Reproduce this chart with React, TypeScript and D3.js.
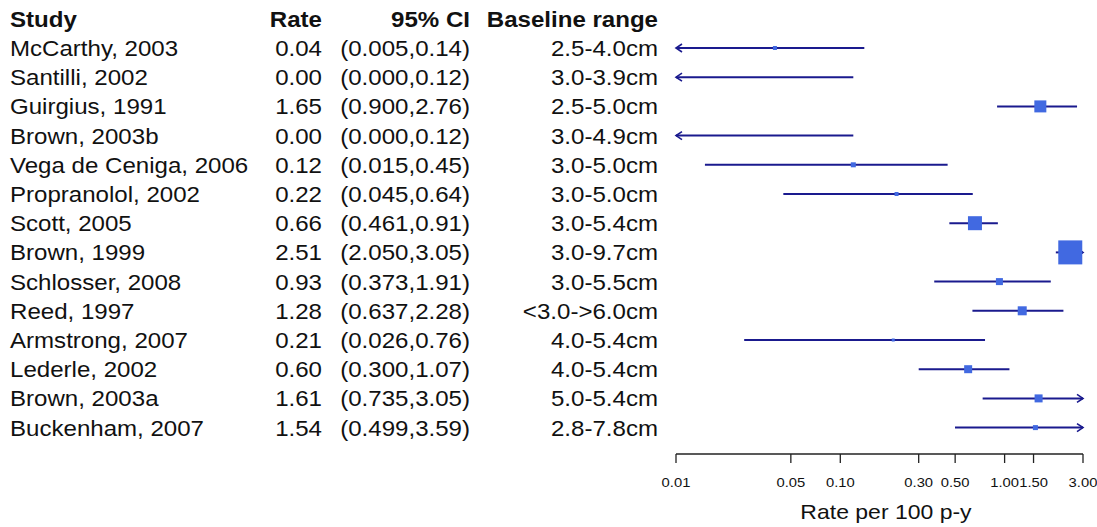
import React from "react";
import * as d3 from "d3";

const studies = [
  "McCarthy, 2003", "Santilli, 2002", "Guirgius, 1991", "Brown, 2003b",
  "Vega de Ceniga, 2006", "Propranolol, 2002", "Scott, 2005", "Brown, 1999",
  "Schlosser, 2008", "Reed, 1997", "Armstrong, 2007", "Lederle, 2002",
  "Brown, 2003a", "Buckenham, 2007",
];
const rates = [0.04, 0.0, 1.65, 0.0, 0.12, 0.22, 0.66, 2.51, 0.93, 1.28, 0.21, 0.6, 1.61, 1.54];
const lowerCI = [0.005, 0.0, 0.9, 0.0, 0.015, 0.045, 0.461, 2.05, 0.373, 0.637, 0.026, 0.3, 0.735, 0.499];
const upperCI = [0.14, 0.12, 2.76, 0.12, 0.45, 0.64, 0.91, 3.05, 1.91, 2.28, 0.76, 1.07, 3.05, 3.59];
const baselineRanges = [
  "2.5-4.0cm", "3.0-3.9cm", "2.5-5.0cm", "3.0-4.9cm", "3.0-5.0cm", "3.0-5.0cm",
  "3.0-5.4cm", "3.0-9.7cm", "3.0-5.5cm", "<3.0->6.0cm", "4.0-5.4cm", "4.0-5.4cm",
  "5.0-5.4cm", "2.8-7.8cm",
];
// relative study weights (box size)
const weights = [4, 0, 12, 0, 5, 4, 14, 24, 7, 9, 3, 8, 8, 5];
const tickValues = [0.01, 0.05, 0.1, 0.3, 0.5, 1, 1.5, 3];
const headers = ["Study", "Rate", "95% CI", "Baseline range"];
const axisTitle = "Rate per 100 p-y";

const W = 1097;
const H = 527;
const FONT = "'Liberation Sans', Arial, sans-serif";
const SX = 1.095;
const LINE = "#1a1a8e";
const BOX = "#4169e1";

export default function App() {
  const x = d3.scaleLog().domain([0.01, 3]).range([676, 1083]);
  const y = d3.scaleLinear().domain([0, 1]).range([48, 77.2]);
  const size = d3.scaleLinear().domain([0, d3.max(weights) as number]).range([0, 24]);
  const [xmin, xmax] = x.domain();
  const axisY = 454;

  const T = (
    tx: number,
    ty: number,
    s: string,
    anchor: "start" | "end" | "middle",
    fs = 22,
    bold = false,
    key?: string
  ) => (
    <text
      key={key}
      transform={`translate(${tx},${ty}) scale(${SX},1)`}
      textAnchor={anchor}
      fontSize={fs}
      fontWeight={bold ? "bold" : "normal"}
      fontFamily={FONT}
      fill="#111"
    >
      {s}
    </text>
  );

  const colStudy = 10;
  const colRate = 322;
  const colCI = 470;
  const colBase = 658;

  return (
    <div style={{ position: "absolute", left: 0, top: 0 }}>
      <svg width={W} height={H} style={{ display: "block", background: "#fff" }}>
        <g>
          {T(colStudy, y(-1) + 8, headers[0], "start", 22, true, "h0")}
          {T(colRate, y(-1) + 8, headers[1], "end", 22, true, "h1")}
          {T(colCI, y(-1) + 8, headers[2], "end", 22, true, "h2")}
          {T(colBase, y(-1) + 8, headers[3], "end", 22, true, "h3")}
        </g>
        {studies.map((s, i) => {
          const yy = y(i);
          const lo = lowerCI[i];
          const hi = upperCI[i];
          const r = rates[i];
          const x1 = x(Math.max(lo, xmin));
          const x2 = x(Math.min(hi, xmax));
          const bs = size(weights[i]);
          return (
            <g key={s}>
              {T(colStudy, yy + 8, s, "start")}
              {T(colRate, yy + 8, r.toFixed(2), "end")}
              {T(colCI, yy + 8, `(${lo.toFixed(3)},${hi.toFixed(2)})`, "end")}
              {T(colBase, yy + 8, baselineRanges[i], "end")}
              <line x1={x1} x2={x2} y1={yy} y2={yy} stroke={LINE} strokeWidth={2} />
              {lo < xmin && (
                <path
                  d={`M${x1 + 6},${yy - 4}L${x1},${yy}L${x1 + 6},${yy + 4}`}
                  fill="none"
                  stroke={LINE}
                  strokeWidth={1.6}
                />
              )}
              {hi > xmax && (
                <path
                  d={`M${x2 - 6},${yy - 4}L${x2},${yy}L${x2 - 6},${yy + 4}`}
                  fill="none"
                  stroke={LINE}
                  strokeWidth={1.6}
                />
              )}
              {r > 0 && bs > 0 && (
                <rect
                  x={x(r) - bs / 2}
                  y={yy - bs / 2}
                  width={bs}
                  height={bs}
                  fill={BOX}
                />
              )}
            </g>
          );
        })}
        <g>
          <line x1={x(xmin)} x2={x(xmax)} y1={axisY} y2={axisY} stroke="#222" strokeWidth={1.3} />
          {tickValues.map((t) => (
            <g key={t}>
              <line x1={x(t)} x2={x(t)} y1={axisY} y2={axisY + 9} stroke="#222" strokeWidth={1.3} />
              {T(x(t), axisY + 33, t.toFixed(2), "middle", 13.5, false, "tl" + t)}
            </g>
          ))}
          {T(886, 519, axisTitle, "middle", 21, false, "ax")}
        </g>
      </svg>
    </div>
  );
}
